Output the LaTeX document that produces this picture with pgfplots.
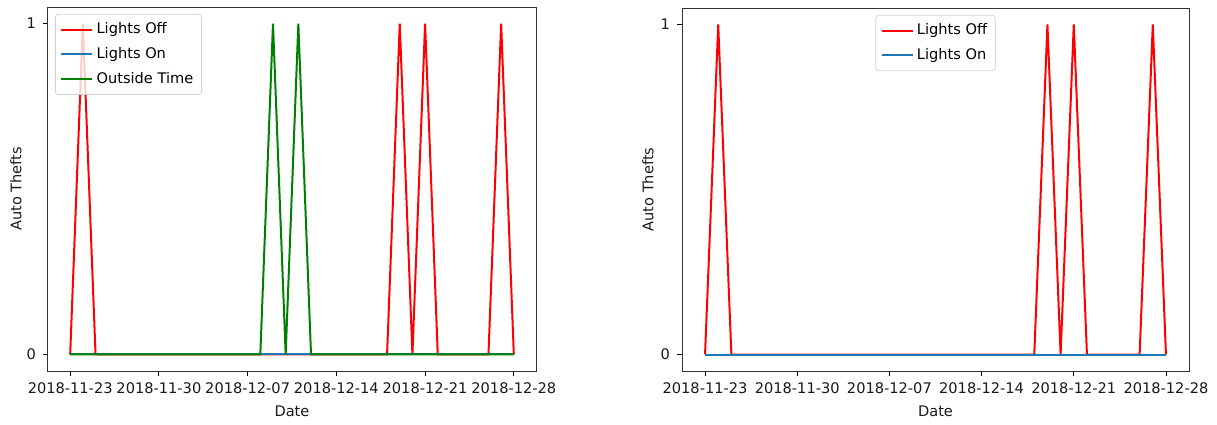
\documentclass[border=0pt]{standalone}
\usepackage{fontspec}
\setmainfont{DejaVu Sans}
\usepackage{pgfplots}
\pgfplotsset{compat=1.18}

\definecolor{mplblue}{HTML}{1F77B4}
\definecolor{mplgreen}{RGB}{0,128,0}

\pgfplotsset{
  theftaxis/.style={
    scale only axis, anchor=south west,
    xmin=-1.75, xmax=36.75, ymin=-0.05, ymax=1.05,
    xtick={0,7,14,21,28,35},
    xticklabels={2018-11-23,2018-11-30,2018-12-07,2018-12-14,2018-12-21,2018-12-28},
    ytick={0,1},
    xtick pos=bottom, ytick pos=left,
    tick align=outside, major tick length=2.5pt,
    every tick/.style={black, line width=0.45pt},
    axis line style={black!80, line width=0.5pt},
    /pgf/number format/assume math mode=true,
    tick label style={font=\fontsize{7.3}{8.8}\selectfont, black!90},
    label style={font=\fontsize{7.3}{8.8}\selectfont, black!90},
    xlabel={Date}, ylabel={Auto Thefts},
    x label style={at={(axis description cs:0.5,-0.11)}, anchor=center},
    legend style={font=\fontsize{7.3}{8.8}\selectfont, draw=black!18, rounded corners=1.5pt,
      fill=white, fill opacity=0.8, text opacity=1, inner sep=2.5pt, row sep=2.2pt,
      nodes={inner sep=1.6pt}},
    legend cell align=left,
    legend image code/.code={\draw[#1] (0pt,0pt) -- (15.5pt,0pt);},
    every axis plot/.append style={line width=1pt},
  }
}

\begin{document}
\begin{tikzpicture}
\path[use as bounding box] (0,0) rectangle (608.5pt,212pt);

% left: with outside time
\begin{axis}[theftaxis, at={(24pt,26.5pt)}, width=244pt, height=182pt,
  y label style={at={(axis description cs:-0.0656,0.5)}, anchor=center},
  legend style={at={(0.0143,0.981)}, anchor=north west}]
\addplot[red] coordinates {(0,0) (1,1) (2,0) (25,0) (26,1) (27,0) (28,1) (29,0) (33,0) (34,1) (35,0)};
\addlegendentry{Lights Off}
\addplot[mplblue] coordinates {(0,0) (35,0)};
\addlegendentry{Lights On}
\addplot[mplgreen] coordinates {(0,0) (15,0) (16,1) (17,0) (18,1) (19,0) (35,0)};
\addlegendentry{Outside Time}
\end{axis}

% right: lights only
\begin{axis}[theftaxis, at={(341pt,26.5pt)}, width=253.5pt, height=181.5pt,
  y label style={at={(axis description cs:-0.067,0.5)}, anchor=center},
  legend style={at={(0.5,0.981)}, anchor=north}]
\addplot[red] coordinates {(0,0) (1,1) (2,0) (25,0) (26,1) (27,0) (28,1) (29,0) (33,0) (34,1) (35,0)};
\addlegendentry{Lights Off}
\addplot[mplblue] coordinates {(0,0) (35,0)};
\addlegendentry{Lights On}
\end{axis}
\end{tikzpicture}
\end{document}
